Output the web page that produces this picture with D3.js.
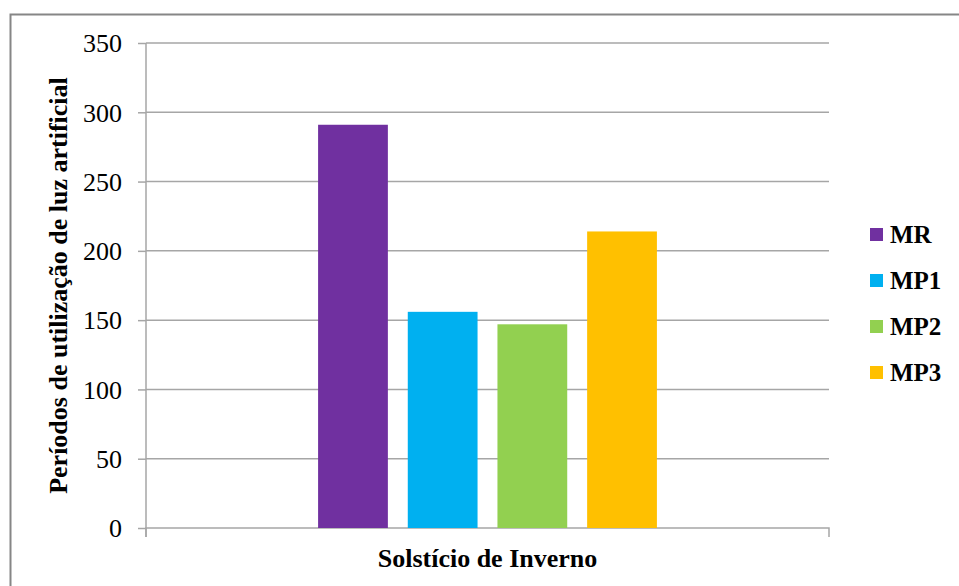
<!DOCTYPE html>
<html>
<head>
<meta charset="utf-8">
<script src="https://cdn.jsdelivr.net/npm/d3@7"></script>
<style>
  body { margin: 0; background: #fff; }
  svg { display: block; }
</style>
</head>
<body>
<svg id="chart"></svg>
<script>
const categories = ["Solstício de Inverno"];
const series = ["MR", "MP1", "MP2", "MP3"];
const values = [291, 156, 147, 214];
const colors = ["#7030A0", "#00B0F0", "#92D050", "#FFC000"];
const yTicks = [0, 50, 100, 150, 200, 250, 300, 350];

const svg = d3.select("#chart")
    .attr("width", 959)
    .attr("height", 586);

const margins = {top: 43, right: 130, bottom: 58, left: 146};
const width = 959 - margins.left - margins.right;
const height = 586 - margins.top - margins.bottom;

// outer frame
svg.append("rect")
    .attr("x", 10.5).attr("y", 14.5)
    .attr("width", 1000).attr("height", 1000)
    .attr("fill", "none")
    .attr("stroke", "#868686")
    .attr("stroke-width", 2);

const g = svg.append("g")
    .attr("transform", `translate(${margins.left}, ${margins.top})`);

const x0 = d3.scaleBand().domain(categories).range([0, width])
    .paddingInner(0).paddingOuter(0.452);
const x1 = d3.scaleBand().domain(series).range([0, x0.bandwidth()])
    .paddingInner(0.222).paddingOuter(0.111);
const y = d3.scaleLinear().domain([0, 350]).range([height, 0]);
const color = d3.scaleOrdinal().domain(series).range(colors);

// gridlines
g.append("g")
    .selectAll("line")
    .data(yTicks.filter(t => t > 0))
    .enter().append("line")
    .attr("x1", 0).attr("x2", width)
    .attr("y1", d => y(d)).attr("y2", d => y(d))
    .attr("stroke", "#a6a6a6")
    .attr("stroke-width", 1.5);

// y axis
const yAxis = g.append("g")
    .call(d3.axisLeft(y).tickValues(yTicks).tickSize(8).tickPadding(16));
yAxis.select(".domain").attr("stroke", "#a6a6a6").attr("stroke-width", 1.5)
    .attr("d", `M0,${height + 9}V0`);
yAxis.selectAll(".tick line").attr("stroke", "#a6a6a6").attr("stroke-width", 1.5);
yAxis.selectAll(".tick text")
    .attr("font-family", "'Liberation Serif', 'Times New Roman', serif")
    .attr("font-size", 26)
    .attr("fill", "#000")
    .attr("dy", "0.34em");

// x axis
const xAxis = g.append("g")
    .attr("transform", `translate(0, ${height})`)
    .call(d3.axisBottom(x0).tickSize(0).tickFormat(""));
xAxis.select(".domain").attr("stroke", "#a6a6a6").attr("stroke-width", 1.5)
    .attr("d", `M0,9V0H${width}V9`);

// bars
const bars = g.append("g")
    .selectAll("g")
    .data(categories)
    .enter().append("g")
    .attr("transform", d => `translate(${x0(d)}, 0)`);

bars.selectAll("rect")
    .data(series.map((s, i) => ({key: s, value: values[i]})))
    .enter().append("rect")
    .attr("x", d => x1(d.key))
    .attr("y", d => y(d.value))
    .attr("width", x1.bandwidth())
    .attr("height", d => height - y(d.value))
    .attr("fill", d => color(d.key));

// axis titles
svg.append("text")
    .text(categories[0])
    .attr("x", margins.left + x0(categories[0]) + x0.bandwidth() / 2)
    .attr("y", 567)
    .attr("text-anchor", "middle")
    .attr("font-family", "'Liberation Serif', 'Times New Roman', serif")
    .attr("font-weight", "bold")
    .attr("font-size", 26)
    .attr("fill", "#000");

svg.append("text")
    .text("Períodos de utilização de luz artificial")
    .attr("transform", `translate(67, ${margins.top + height / 2}) rotate(-90)`)
    .attr("text-anchor", "middle")
    .attr("font-family", "'Liberation Serif', 'Times New Roman', serif")
    .attr("font-weight", "bold")
    .attr("font-size", 26)
    .attr("fill", "#000");

// legend
const legend = svg.append("g")
    .attr("transform", "translate(870, 235)");

const items = legend.selectAll("g")
    .data(series)
    .enter().append("g")
    .attr("transform", (d, i) => `translate(0, ${i * 46})`);

items.append("rect")
    .attr("x", 0).attr("y", -7)
    .attr("width", 13).attr("height", 13)
    .attr("fill", d => color(d));

items.append("text")
    .text(d => d)
    .attr("x", 20)
    .attr("y", 8)
    .attr("font-family", "'Liberation Serif', 'Times New Roman', serif")
    .attr("font-weight", "bold")
    .attr("font-size", 25)
    .attr("fill", "#000");
</script>
</body>
</html>
